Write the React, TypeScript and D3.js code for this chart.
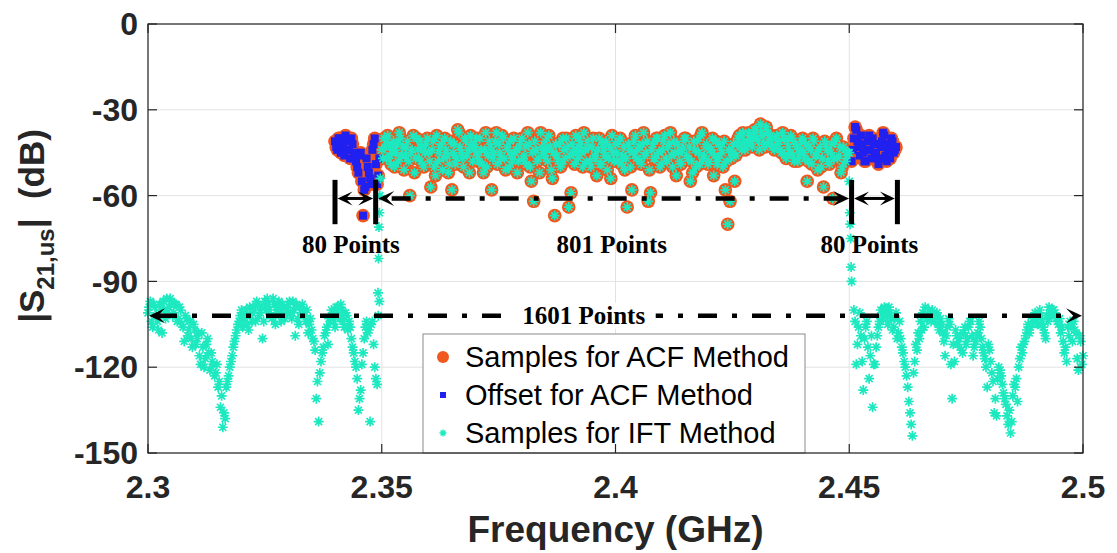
import React from 'react';
import * as d3 from 'd3';

const W = 1117, H = 553;
const PAD = { l: 148, r: 1083, t: 24, b: 453 };

const xTicks = [2.3, 2.35, 2.4, 2.45, 2.5];
const xTickLabels = ['2.3', '2.35', '2.4', '2.45', '2.5'];
const yTicks = [0, -30, -60, -90, -120, -150];

// all uniform series use this frequency step (GHz); the "2" arrays sit half a step later
const STEP = 0.0005;
const HALF = STEP / 2;

// IFT samples, left out-of-band part
const iftLeftStart = 2.3;
const iftLeftDb = [
  -101, -97, -106, -99, -104, -98, -108, -100,
  -96, -99, -97, -101, -98,
  -103, -100, -106, -102, -109,
  -104, -113, -107, -110, -116,
  -108, -120, -112, -115,
  -115, -119, -122, -127, -134, -141, -138, -125, -120,
  -116, -111, -107, -104, -100,
  -103, -100, -107, -102, -99,
  -104, -98, -101, -110, -97,
  -96, -100, -103, -98, -101,
  -97, -104, -99, -102, -98,
  -101, -97, -109, -103, -99,
  -98, -102, -100, -105, -107,
  -111, -131, -139, -118, -113,
  -108, -112, -104, -101, -106,
  -99, -103, -100, -106, -102,
  -104, -110, -115,
  -120, -135, -128, -115, -106, -108, -139, -104, -120, -126, -97,
];
const iftLeftDb2 = [
  -99, -104, -98, -102, -107, -100, -97, -103,
  -100, -96, -102, -98, -104,
  -99, -105, -111, -103, -107,
  -110, -105, -112, -108, -119,
  -113, -117, -110, -121,
  -118, -123, -119, -125, -130, -136, -127, -123, -118,
  -113, -109, -105, -102, -106,
  -101, -105, -99, -104, -100,
  -97, -102, -99, -104, -100,
  -98, -102, -96, -105, -99,
  -101, -98, -103, -100, -97,
  -103, -100, -98, -105, -101,
  -100, -104, -108, -103, -110,
  -114, -125, -122, -115, -109,
  -106, -103, -100, -104, -99,
  -102, -98, -104, -101, -107,
  -106, -113, -118, -124, -131,
  -119, -110, -104, -107, -105,
  -112, -124, -102,
];
const iftEdgeLeftFreq = [2.3492, 2.3493, 2.3494, 2.3495, 2.3496, 2.3497];
const iftEdgeLeftDb = [-94, -82, -71, -66, -60, -54];

// in-band part, shared by ACF and IFT samples (2.35 .. 2.45)
const bandStart = 2.35;
const bandDb = [
  -44, -40, -47, -42, -49, -41, -45, -48, -40, -43,
  -46, -41, -60, -44, -52, -40, -47, -43, -50, -42,
  -45, -57, -41, -53, -48, -43, -51, -40, -46, -49,
  -58, -42, -47, -38, -45, -50, -41, -44, -39, -48,
  -43, -46, -40, -49, -44, -50, -41, -58, -45, -38,
  -42, -47, -40, -51, -44, -41, -48, -45, -52, -43,
  -40, -46, -49, -42, -55, -62, -44, -47, -38, -45,
  -41, -48, -43, -54, -67, -46, -42, -49, -44, -40,
  -64, -59, -45, -39, -47, -42, -50, -44, -41, -48,
  -43, -46, -53, -40, -49, -44, -41, -47, -54, -45,
  -42, -48, -40, -46, -51, -64, -44, -58, -41, -47,
  -43, -49, -38, -45, -62, -59, -42, -47, -40, -50,
  -44, -39, -48, -42, -46, -41, -53, -45, -49, -43,
  -40, -47, -55, -52, -44, -41, -49, -38, -46, -42,
  -48, -44, -53, -41, -47, -43, -50, -58, -70, -62,
  -45, -55, -42, -39, -44, -41, -43, -38, -42, -40,
  -37, -41, -35, -39, -43, -38, -42, -40, -44, -39,
  -41, -45, -40, -47, -43, -39, -46, -42, -48, -44,
  -40, -47, -55, -43, -49, -41, -46, -44, -50, -57,
  -42, -48, -45, -61, -41, -47, -43, -50, -44, -46,
  -45,
];
const bandDb2 = [
  -47, -43, -39, -46, -44, -50, -42, -38, -46, -51,
  -43, -48, -45, -39, -47, -44, -41, -49, -45, -40,
  -48, -44, -50, -39, -45, -42, -47, -44, -52, -41,
  -45, -49, -37, -43, -47, -40, -46, -52, -42, -44,
  -40, -48, -44, -52, -38, -46, -43, -47, -41, -49,
  -45, -39, -47, -43, -50, -46, -40, -44, -48, -41,
  -47, -43, -38, -50, -45, -41, -48, -52, -43, -46,
  -44, -39, -51, -45, -42, -48, -50, -40, -47, -43,
  -46, -42, -49, -44, -40, -45, -38, -48, -43, -50,
  -40, -47, -44, -49, -42, -46, -51, -43, -39, -48,
  -45, -41, -49, -43, -47, -42, -50, -45, -39, -44,
  -48, -42, -46, -41, -51, -44, -47, -40, -45, -49,
  -41, -47, -43, -38, -50, -45, -42, -48, -44, -40,
  -46, -43, -48, -41, -50, -45, -39, -47, -43, -49,
  -44, -40, -46, -49, -42, -45, -41, -48, -44, -47,
  -42, -46, -40, -43, -38, -44, -41, -39, -43, -37,
  -40, -44, -38, -42, -36, -41, -39, -43, -40, -42,
  -44, -38, -46, -41, -45, -40, -48, -43, -46, -41,
  -45, -42, -48, -44, -40, -46, -51, -43, -47, -41,
  -44, -49, -42, -47, -40, -46, -52, -43, -48, -45,
];

const iftEdgeRightFreq = [2.45, 2.4501, 2.4502, 2.4503, 2.4504, 2.4505];
const iftEdgeRightDb = [-55, -66, -70, -75, -85, -90];

// IFT samples, right out-of-band part
const iftRightStart = 2.451;
const iftRightDb = [
  -100, -119, -106, -109, -128, -106, -113, -116, -134, -119, -109, -104, -101,
  -99, -102, -99, -103, -106, -101, -108, -110, -115, -120, -127, -136, -144,
  -118, -114, -110, -107, -106, -103, -100, -104, -101, -102, -105, -103, -108,
  -116, -106, -105, -131, -118, -109, -110, -114, -108, -112, -106, -104, -116,
  -111, -108, -106, -113, -117, -127, -114, -122, -136, -137, -120, -123, -129,
  -133, -140, -143, -130, -127, -132, -117, -115, -111, -107, -108, -105, -104,
  -103, -105, -102, -106, -110, -104, -101, -100, -101, -104, -103, -106, -115,
  -118, -109, -106, -104, -108, -121, -111, -116,
];
const iftRightDb2 = [
  -104, -112, -101, -118, -110, -104, -124, -109, -119, -113, -106, -100, -103,
  -100, -105, -101, -107, -103, -110, -104, -113, -118, -123, -132, -140, -122,
  -112, -108, -104, -101, -99, -103, -102, -100, -104, -101, -107, -105, -111,
  -109, -103, -119, -112, -107, -112, -109, -115, -106, -110, -104, -109, -113,
  -109, -104, -110, -115, -120, -112, -118, -125, -131, -124, -121, -126, -131,
  -137, -135, -139, -126, -124, -120, -113, -112, -109, -105, -106, -103, -101,
  -105, -100, -104, -108, -102, -99, -102, -100, -103, -105, -108, -111, -113,
  -106, -104, -111, -107, -117, -109, -119,
];

// ACF offset samples (80 points each side)
const offsetLeftStart = 2.34;
const offsetLeftDb = [-41, -44, -40, -43, -46, -41, -44, -40, -47, -48, -52, -45, -67, -57, -50, -54, -44, -40, -56, -47];
const offsetLeftDb2 = [-43, -40, -45, -42, -39, -44, -47, -42, -45, -50, -46, -55, -58, -47, -52, -56, -42, -49, -53];
const offsetRightStart = 2.4505;
const offsetRightDb = [-48, -40, -37, -43, -39, -45, -48, -41, -44, -40, -46, -42, -47, -41, -39, -48, -42, -40, -45, -43];
const offsetRightDb2 = [-44, -36, -41, -46, -42, -48, -44, -39, -47, -42, -45, -49, -43, -38, -46, -44, -47, -41, -44];

const legendLabels = ['Samples for ACF Method', 'Offset for ACF Method', 'Samples for IFT Method'];

// annotation spans: [from, to] in GHz
const shortSpans = [[2.34, 2.3487], [2.4505, 2.4603]];
const longSpan = [2.3487, 2.4505];
const fullSpan = [2.3, 2.5];
const spanLabels = [
  { f: 2.3434, text: '80 Points' },
  { f: 2.3992, text: '801 Points' },
  { f: 2.4543, text: '80 Points' },
];
const fullLabel = { f: 2.3932, text: '1601 Points' };

const ORANGE = '#f0581e';
const BLUE = '#2020f0';
const CYAN = '#1de9c0';
const AXIS = '#262626';

type Pt = [number, number];
const grid = (start: number, vals: number[]): Pt[] => vals.map((v, i) => [start + i * STEP, v]);
const pairs = (fs: number[], vals: number[]): Pt[] => vals.map((v, i) => [fs[i], v]);

const bandPts = [...grid(bandStart, bandDb), ...grid(bandStart + HALF, bandDb2)];
const offLeft = [...grid(offsetLeftStart, offsetLeftDb), ...grid(offsetLeftStart + HALF, offsetLeftDb2)];
const offRight = [...grid(offsetRightStart, offsetRightDb), ...grid(offsetRightStart + HALF, offsetRightDb2)];
const acfPts = [...offLeft, ...bandPts, ...offRight];
const offsetPts = [...offLeft, ...offRight];
const iftPts = [
  ...grid(iftLeftStart, iftLeftDb),
  ...grid(iftLeftStart + HALF, iftLeftDb2),
  ...pairs(iftEdgeLeftFreq, iftEdgeLeftDb),
  ...bandPts,
  ...pairs(iftEdgeRightFreq, iftEdgeRightDb),
  ...grid(iftRightStart, iftRightDb),
  ...grid(iftRightStart + HALF, iftRightDb2),
];

const x = d3.scaleLinear().domain([2.3, 2.5]).range([PAD.l, PAD.r]);
const y = d3.scaleLinear().domain([-150, 0]).range([PAD.b, PAD.t]);

const star = (cx: number, cy: number, r: number) => {
  const d = r * 0.7;
  return `M${cx - r},${cy}H${cx + r}M${cx},${cy - r}V${cy + r}M${cx - d},${cy - d}L${cx + d},${cy + d}M${cx - d},${cy + d}L${cx + d},${cy - d}`;
};

// filled arrow head with notched back, tip at (tx,ty), dir +1 = right
const head = (tx: number, ty: number, dir: number, L: number, hw: number) =>
  `M${tx},${ty}L${tx - dir * L},${ty - hw}L${tx - dir * L * 0.55},${ty}L${tx - dir * L},${ty + hw}Z`;

const SERIF = '"Liberation Serif", "Times New Roman", serif';
const SANS = 'Arial, "Liberation Sans", sans-serif';

export default function App() {
  const arrowY = y(-61);
  const barTop = y(-54.5), barBot = y(-70);
  const labelY = y(-77);
  const fullY = y(-102);
  const dash = '19 15 5 15';

  return (
    <svg width={W} height={H} style={{ position: 'absolute', left: 0, top: 0, background: '#fff' }}>
      <rect width={W} height={H} fill="#fff" />

      {/* grid */}
      {xTicks.map(t => (
        <line key={'gx' + t} x1={x(t)} x2={x(t)} y1={PAD.t} y2={PAD.b} stroke="#e3e3e3" strokeWidth={1} />
      ))}
      {yTicks.map(t => (
        <line key={'gy' + t} x1={PAD.l} x2={PAD.r} y1={y(t)} y2={y(t)} stroke="#e3e3e3" strokeWidth={1} />
      ))}

      {/* ACF samples */}
      <g fill={ORANGE}>
        {acfPts.map((p, i) => <circle key={i} cx={x(p[0])} cy={y(p[1])} r={6.8} />)}
      </g>
      {/* offsets */}
      <g fill={BLUE}>
        {offsetPts.map((p, i) => <rect key={i} x={x(p[0]) - 4} y={y(p[1]) - 4} width={8} height={8} />)}
      </g>
      {/* IFT samples */}
      <path d={iftPts.map(p => star(x(p[0]), y(p[1]), 5)).join('')} stroke={CYAN} strokeWidth={1.7} fill="none" />

      {/* annotations */}
      <g fill="#000" stroke="none">
        {[shortSpans[0][0], shortSpans[0][1], shortSpans[1][0], shortSpans[1][1]].map((f, i) => (
          <rect key={'bar' + i} x={x(f) - 2.5} y={barTop} width={5} height={barBot - barTop} />
        ))}
        {shortSpans.map((s, i) => {
          const a = x(s[0]) + 2.5, b = x(s[1]) - 2.5;
          return (
            <g key={'ss' + i}>
              <line x1={a + 6} x2={b - 6} y1={arrowY} y2={arrowY} stroke="#000" strokeWidth={3} />
              <path d={head(a, arrowY, -1, 15, 7)} />
              <path d={head(b, arrowY, 1, 15, 7)} />
            </g>
          );
        })}
        <line x1={x(longSpan[0]) + 10} x2={x(longSpan[1]) - 10} y1={arrowY} y2={arrowY}
          stroke="#000" strokeWidth={4.5} strokeDasharray={dash} strokeDashoffset={-6} />
        <path d={head(x(longSpan[0]) + 2.5, arrowY, -1, 16, 7.5)} />
        <path d={head(x(longSpan[1]) - 2.5, arrowY, 1, 16, 7.5)} />

        <line x1={x(fullSpan[0]) + 10} x2={x(fullSpan[1]) - 10} y1={fullY} y2={fullY}
          stroke="#000" strokeWidth={4.5} strokeDasharray={dash} />
        <path d={head(x(fullSpan[0]) + 1, fullY, -1, 16, 7.5)} />
        <path d={head(x(fullSpan[1]) - 1, fullY, 1, 16, 7.5)} />
      </g>
      <rect x={x(fullLabel.f) - 72} y={fullY - 13} width={144} height={26} fill="#fff" />
      <text x={x(fullLabel.f)} y={fullY} dy="0.35em" textAnchor="middle" fontFamily={SERIF} fontWeight="bold" fontSize={25}>{fullLabel.text}</text>
      {spanLabels.map(l => (
        <text key={l.text + l.f} x={x(l.f)} y={labelY} dy="0.35em" textAnchor="middle"
          fontFamily={SERIF} fontWeight="bold" fontSize={25}>{l.text}</text>
      ))}

      {/* legend */}
      <g>
        <rect x={423} y={334} width={382} height={119} fill="#fff" stroke="#8a8a8a" strokeWidth={1} />
        <circle cx={443} cy={357} r={6} fill={ORANGE} />
        <rect x={440} y={392} width={6} height={6} fill={BLUE} />
        <path d={star(443, 433, 3.5)} stroke={CYAN} strokeWidth={1.4} />
        {legendLabels.map((t, i) => (
          <text key={t} x={465} y={357 + i * 38} dy="0.35em" fontFamily={SANS} fontSize={29} fill="#000">{t}</text>
        ))}
      </g>

      {/* axes box & ticks */}
      <rect x={PAD.l} y={PAD.t} width={PAD.r - PAD.l} height={PAD.b - PAD.t} fill="none" stroke={AXIS} strokeWidth={1.2} />
      {xTicks.map(t => (
        <g key={'tx' + t} stroke={AXIS} strokeWidth={1.2}>
          <line x1={x(t)} x2={x(t)} y1={PAD.b} y2={PAD.b - 9} />
          <line x1={x(t)} x2={x(t)} y1={PAD.t} y2={PAD.t + 9} />
        </g>
      ))}
      {yTicks.map(t => (
        <g key={'ty' + t} stroke={AXIS} strokeWidth={1.2}>
          <line x1={PAD.l} x2={PAD.l + 9} y1={y(t)} y2={y(t)} />
          <line x1={PAD.r} x2={PAD.r - 9} y1={y(t)} y2={y(t)} />
        </g>
      ))}

      {/* tick labels */}
      <g fontFamily={SANS} fontWeight="bold" fontSize={32} fill={AXIS}>
        {yTicks.map(t => (
          <text key={'ly' + t} x={PAD.l - 10} y={y(t)} dy="0.35em" textAnchor="end">{t}</text>
        ))}
        {xTicks.map((t, i) => (
          <text key={'lx' + t} x={x(t)} y={PAD.b + 34} dy="0.35em" textAnchor="middle">{xTickLabels[i]}</text>
        ))}
        <text x={(PAD.l + PAD.r) / 2} y={529} dy="0.35em" textAnchor="middle" fontSize={37}>Frequency (GHz)</text>
        <text transform="translate(32,226) rotate(-90)" dy="0.35em" textAnchor="middle" fontSize={35} style={{ whiteSpace: 'pre' }}>
          |S<tspan fontSize={24} dy={10}>21,us</tspan><tspan dy={-10}>|  (dB)</tspan>
        </text>
      </g>
    </svg>
  );
}
